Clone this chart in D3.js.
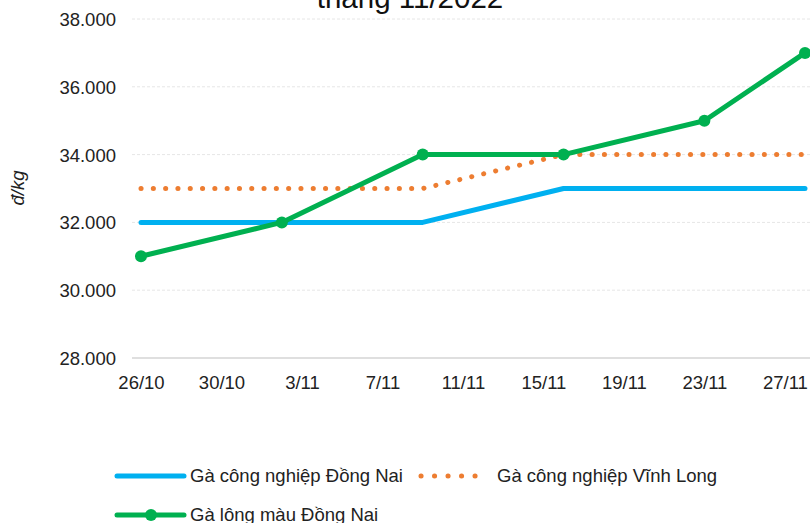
<!DOCTYPE html>
<meta charset="utf-8">
<html>
<head>
<style>
  body { margin: 0; background: #fff; }
  svg { display: block; font-family: "Liberation Sans", Arial, sans-serif; }
  .tick text { fill: #222; }
</style>
</head>
<body>
<script src="https://cdn.jsdelivr.net/npm/d3@7"></script>
<script>
// data
var dates = ["26/10/2022", "2/11/2022", "9/11/2022", "16/11/2022", "23/11/2022", "28/11/2022"];
var dongNaiCN = [32000, 32000, 32000, 33000, 33000, 33000];
var vinhLongCN = [33000, 33000, 33000, 34000, 34000, 34000];
var dongNaiLM = [31000, 32000, 34000, 34000, 35000, 37000];
var seriesNames = ["Gà công nghiệp Đồng Nai", "Gà công nghiệp Vĩnh Long", "Gà lông màu Đồng Nai"];
var xTickLabels = ["26/10", "30/10", "3/11", "7/11", "11/11", "15/11", "19/11", "23/11", "27/11"];
var yTicks = [28000, 30000, 32000, 34000, 36000, 38000];
var title = "tháng 11/2022";
var yTitle = "đ/kg";

var W = 810, H = 523;
var parse = d3.timeParse("%d/%m/%Y");
var parseTick = function(s) { return parse(s + "/2022"); };

var svg = d3.select("body").append("svg")
    .attr("width", W)
    .attr("height", H);

var x = d3.scaleTime()
    .domain([parse(dates[0]), parse(dates[dates.length - 1])])
    .range([141, 805]);

var y = d3.scaleLinear()
    .domain([28000, 38000])
    .range([358, 19]);

var vn = d3.formatLocale({decimal: ",", thousands: ".", grouping: [3], currency: ["", "đ"]});
var fmt = vn.format(",.0f");

// grid lines
var gridL = 132, gridR = 812;
svg.append("g")
  .selectAll("line")
  .data(yTicks)
  .enter().append("line")
    .attr("x1", gridL)
    .attr("x2", gridR)
    .attr("y1", function(d) { return y(d); })
    .attr("y2", function(d) { return y(d); })
    .attr("stroke", function(d) { return d === 28000 ? "#d4d4d4" : "#e6e6e6"; })
    .attr("stroke-width", function(d) { return d === 28000 ? 1.5 : 1; })
    .attr("stroke-dasharray", function(d) { return d === 28000 ? null : "3 2"; });

// y axis labels
var yAxis = d3.axisLeft(y).tickValues(yTicks).tickFormat(fmt).tickSize(0).tickPadding(0);
var gy = svg.append("g")
    .attr("transform", "translate(116,0)")
    .call(yAxis);
gy.select(".domain").remove();
gy.selectAll("text").style("font-size", "18.5px").attr("dy", "0.35em");

// x axis labels
var xAxis = d3.axisBottom(x)
    .tickValues(xTickLabels.map(parseTick))
    .tickFormat(function(d, i) { return xTickLabels[i]; })
    .tickSize(0).tickPadding(0);
var gx = svg.append("g")
    .attr("transform", "translate(0,376)")
    .call(xAxis);
gx.select(".domain").remove();
gx.selectAll("text").style("font-size", "18.5px").attr("dy", "0.71em");

// title (top line is cut off in the picture)
svg.append("text")
    .attr("x", 410)
    .attr("y", 8)
    .attr("text-anchor", "middle")
    .style("font-size", "29.5px")
    .style("fill", "#111")
    .text(title);

svg.append("text")
    .attr("transform", "translate(24,188) rotate(-90)")
    .attr("text-anchor", "middle")
    .style("font-size", "18.5px")
    .style("font-style", "italic")
    .style("fill", "#222")
    .text(yTitle);

var line = d3.line()
    .x(function(d) { return x(d.date); })
    .y(function(d) { return y(d.value); });

function pts(vals) {
  return vals.map(function(v, i) { return {date: parse(dates[i]), value: v}; });
}

var blue = "#00b0f0", orange = "#ed7d31", green = "#00b050";

svg.append("path")
    .datum(pts(dongNaiCN))
    .attr("d", line)
    .attr("fill", "none")
    .attr("stroke", blue)
    .attr("stroke-width", 5)
    .attr("stroke-linecap", "round")
    .attr("stroke-linejoin", "round");

svg.append("path")
    .datum(pts(vinhLongCN))
    .attr("d", line)
    .attr("fill", "none")
    .attr("stroke", orange)
    .attr("stroke-width", 5)
    .attr("stroke-linecap", "round")
    .attr("stroke-dasharray", "0.1 12.2");

svg.append("path")
    .datum(pts(dongNaiLM))
    .attr("d", line)
    .attr("fill", "none")
    .attr("stroke", green)
    .attr("stroke-width", 5)
    .attr("stroke-linejoin", "round");

svg.append("g")
  .selectAll("circle")
  .data(pts(dongNaiLM))
  .enter().append("circle")
    .attr("cx", function(d) { return x(d.date); })
    .attr("cy", function(d) { return y(d.value); })
    .attr("r", 6)
    .attr("fill", green);

// legend
var legend = [
  {name: seriesNames[0], color: blue, x: 117, y: 476, kind: "solid"},
  {name: seriesNames[1], color: orange, x: 421, y: 476, kind: "dot"},
  {name: seriesNames[2], color: green, x: 117, y: 515, kind: "marker"}
];
var lg = svg.append("g").selectAll("g").data(legend).enter().append("g")
    .attr("transform", function(d) { return "translate(" + d.x + "," + d.y + ")"; });
lg.append("line")
    .attr("x1", 0).attr("x2", 67)
    .attr("stroke", function(d) { return d.color; })
    .attr("stroke-width", 5)
    .attr("stroke-linecap", "round")
    .attr("stroke-dasharray", function(d) { return d.kind === "dot" ? "0.1 13.4" : null; });
lg.filter(function(d) { return d.kind === "marker"; })
  .append("circle")
    .attr("cx", 34).attr("r", 6)
    .attr("fill", function(d) { return d.color; });
lg.append("text")
    .attr("x", function(d) { return d.kind === "dot" ? 76 : 73; })
    .attr("dy", "0.35em")
    .style("font-size", "18.5px")
    .style("fill", "#222")
    .text(function(d) { return d.name; });
</script>
</body>
</html>
